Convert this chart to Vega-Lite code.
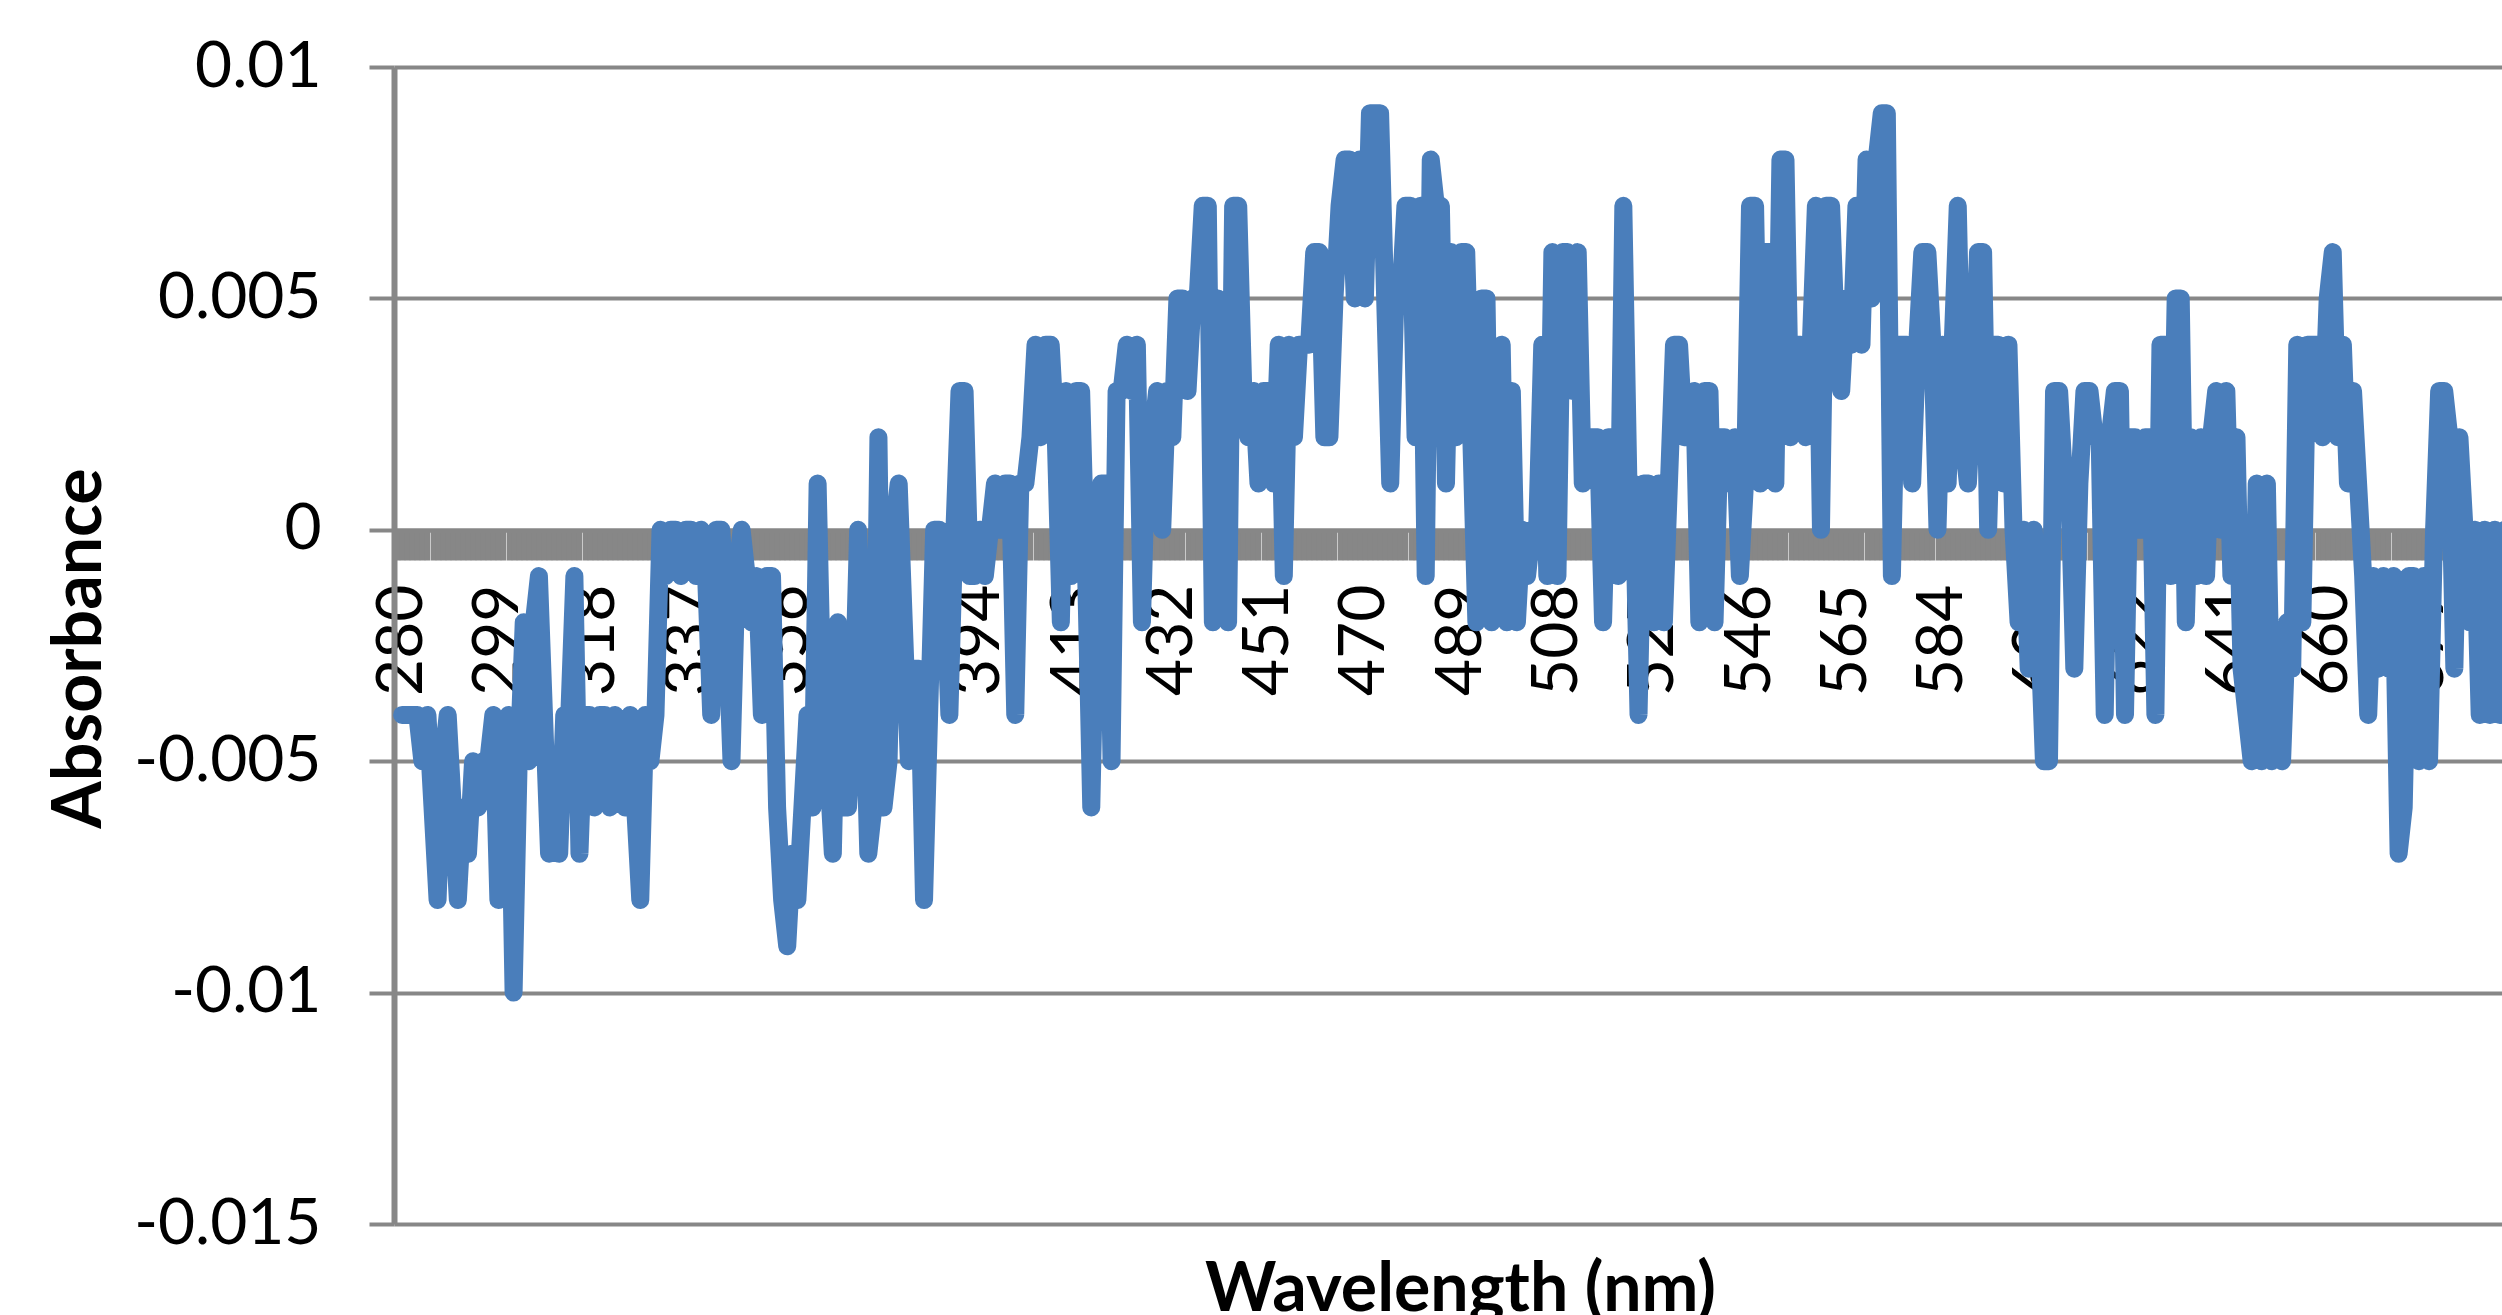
{
  "$schema": "https://vega.github.io/schema/vega-lite/v6.json",
  "width": 2108,
  "height": 1157,
  "autosize": {"type": "none"},
  "padding": {"left": 394, "top": 67, "right": 0, "bottom": 91},
  "background": "white",
  "config": {"view": {"stroke": null}},
  "data": {"values": [
{"nm":280,"A":-0.004},{"nm":281,"A":-0.004},{"nm":282,"A":-0.004},{"nm":283,"A":-0.004},{"nm":284,"A":-0.005},{"nm":285,"A":-0.004},{"nm":286,"A":-0.006},{"nm":287,"A":-0.008},{"nm":288,"A":-0.005},{"nm":289,"A":-0.004},
{"nm":290,"A":-0.006},{"nm":291,"A":-0.008},{"nm":292,"A":-0.006},{"nm":293,"A":-0.007},{"nm":294,"A":-0.005},{"nm":295,"A":-0.006},{"nm":296,"A":-0.005},{"nm":297,"A":-0.005},{"nm":298,"A":-0.004},{"nm":299,"A":-0.008},
{"nm":300,"A":-0.005},{"nm":301,"A":-0.004},{"nm":302,"A":-0.01},{"nm":303,"A":-0.005},{"nm":304,"A":-0.002},{"nm":305,"A":-0.005},{"nm":306,"A":-0.002},{"nm":307,"A":-0.001},{"nm":308,"A":-0.004},{"nm":309,"A":-0.007},
{"nm":310,"A":-0.005},{"nm":311,"A":-0.007},{"nm":312,"A":-0.004},{"nm":313,"A":-0.004},{"nm":314,"A":-0.001},{"nm":315,"A":-0.007},{"nm":316,"A":-0.004},{"nm":317,"A":-0.004},{"nm":318,"A":-0.006},{"nm":319,"A":-0.004},
{"nm":320,"A":-0.004},{"nm":321,"A":-0.006},{"nm":322,"A":-0.004},{"nm":323,"A":-0.005},{"nm":324,"A":-0.006},{"nm":325,"A":-0.004},{"nm":326,"A":-0.006},{"nm":327,"A":-0.008},{"nm":328,"A":-0.004},{"nm":329,"A":-0.005},
{"nm":330,"A":-0.004},{"nm":331,"A":0},{"nm":332,"A":-0.001},{"nm":333,"A":0},{"nm":334,"A":0},{"nm":335,"A":-0.001},{"nm":336,"A":0},{"nm":337,"A":0},{"nm":338,"A":-0.001},{"nm":339,"A":0},
{"nm":340,"A":-0.001},{"nm":341,"A":-0.004},{"nm":342,"A":0},{"nm":343,"A":0},{"nm":344,"A":-0.002},{"nm":345,"A":-0.005},{"nm":346,"A":-0.001},{"nm":347,"A":0},{"nm":348,"A":-0.001},{"nm":349,"A":-0.002},
{"nm":350,"A":-0.001},{"nm":351,"A":-0.004},{"nm":352,"A":-0.001},{"nm":353,"A":-0.001},{"nm":354,"A":-0.006},{"nm":355,"A":-0.008},{"nm":356,"A":-0.009},{"nm":357,"A":-0.007},{"nm":358,"A":-0.008},{"nm":359,"A":-0.006},
{"nm":360,"A":-0.004},{"nm":361,"A":-0.006},{"nm":362,"A":0.001},{"nm":363,"A":-0.004},{"nm":364,"A":-0.005},{"nm":365,"A":-0.007},{"nm":366,"A":-0.002},{"nm":367,"A":-0.006},{"nm":368,"A":-0.006},{"nm":369,"A":-0.004},
{"nm":370,"A":0},{"nm":371,"A":-0.003},{"nm":372,"A":-0.007},{"nm":373,"A":-0.006},{"nm":374,"A":0.002},{"nm":375,"A":-0.006},{"nm":376,"A":-0.005},{"nm":377,"A":0},{"nm":378,"A":0.001},{"nm":379,"A":-0.002},
{"nm":380,"A":-0.005},{"nm":381,"A":-0.003},{"nm":382,"A":-0.003},{"nm":383,"A":-0.008},{"nm":384,"A":-0.004},{"nm":385,"A":0},{"nm":386,"A":0},{"nm":387,"A":-0.001},{"nm":388,"A":-0.004},{"nm":389,"A":0},
{"nm":390,"A":0.003},{"nm":391,"A":0.003},{"nm":392,"A":-0.001},{"nm":393,"A":-0.001},{"nm":394,"A":0},{"nm":395,"A":-0.001},{"nm":396,"A":0},{"nm":397,"A":0.001},{"nm":398,"A":0},{"nm":399,"A":0.001},
{"nm":400,"A":0.001},{"nm":401,"A":-0.004},{"nm":402,"A":0.001},{"nm":403,"A":0.001},{"nm":404,"A":0.002},{"nm":405,"A":0.004},{"nm":406,"A":0.002},{"nm":407,"A":0.004},{"nm":408,"A":0.004},{"nm":409,"A":0.002},
{"nm":410,"A":-0.002},{"nm":411,"A":0.003},{"nm":412,"A":-0.001},{"nm":413,"A":0.003},{"nm":414,"A":0.003},{"nm":415,"A":-0.001},{"nm":416,"A":-0.006},{"nm":417,"A":-0.001},{"nm":418,"A":0.001},{"nm":419,"A":0.001},
{"nm":420,"A":-0.005},{"nm":421,"A":0.003},{"nm":422,"A":0.003},{"nm":423,"A":0.004},{"nm":424,"A":0.003},{"nm":425,"A":0.004},{"nm":426,"A":-0.002},{"nm":427,"A":0.002},{"nm":428,"A":0.002},{"nm":429,"A":0.003},
{"nm":430,"A":0},{"nm":431,"A":0.003},{"nm":432,"A":0.002},{"nm":433,"A":0.005},{"nm":434,"A":0.005},{"nm":435,"A":0.003},{"nm":436,"A":0.005},{"nm":437,"A":0.005},{"nm":438,"A":0.007},{"nm":439,"A":0.007},
{"nm":440,"A":-0.002},{"nm":441,"A":0.005},{"nm":442,"A":0.002},{"nm":443,"A":-0.002},{"nm":444,"A":0.007},{"nm":445,"A":0.007},{"nm":446,"A":0.003},{"nm":447,"A":0.002},{"nm":448,"A":0.003},{"nm":449,"A":0.001},
{"nm":450,"A":0.003},{"nm":451,"A":0.003},{"nm":452,"A":0.001},{"nm":453,"A":0.004},{"nm":454,"A":-0.001},{"nm":455,"A":0.004},{"nm":456,"A":0.002},{"nm":457,"A":0.004},{"nm":458,"A":0.004},{"nm":459,"A":0.004},
{"nm":460,"A":0.006},{"nm":461,"A":0.006},{"nm":462,"A":0.002},{"nm":463,"A":0.002},{"nm":464,"A":0.005},{"nm":465,"A":0.007},{"nm":466,"A":0.008},{"nm":467,"A":0.008},{"nm":468,"A":0.005},{"nm":469,"A":0.008},
{"nm":470,"A":0.005},{"nm":471,"A":0.009},{"nm":472,"A":0.009},{"nm":473,"A":0.009},{"nm":474,"A":0.005},{"nm":475,"A":0.001},{"nm":476,"A":0.005},{"nm":477,"A":0.005},{"nm":478,"A":0.007},{"nm":479,"A":0.007},
{"nm":480,"A":0.002},{"nm":481,"A":0.007},{"nm":482,"A":-0.001},{"nm":483,"A":0.008},{"nm":484,"A":0.007},{"nm":485,"A":0.007},{"nm":486,"A":0.001},{"nm":487,"A":0.006},{"nm":488,"A":0.002},{"nm":489,"A":0.006},
{"nm":490,"A":0.006},{"nm":491,"A":0.002},{"nm":492,"A":-0.002},{"nm":493,"A":0.005},{"nm":494,"A":0.005},{"nm":495,"A":-0.002},{"nm":496,"A":0.003},{"nm":497,"A":0.004},{"nm":498,"A":-0.002},{"nm":499,"A":0.003},
{"nm":500,"A":-0.002},{"nm":501,"A":0},{"nm":502,"A":-0.001},{"nm":503,"A":0},{"nm":504,"A":0},{"nm":505,"A":0.004},{"nm":506,"A":-0.001},{"nm":507,"A":0.006},{"nm":508,"A":-0.001},{"nm":509,"A":0.006},
{"nm":510,"A":0.006},{"nm":511,"A":0.003},{"nm":512,"A":0.006},{"nm":513,"A":0.001},{"nm":514,"A":0.002},{"nm":515,"A":0.002},{"nm":516,"A":0.002},{"nm":517,"A":-0.002},{"nm":518,"A":0.002},{"nm":519,"A":0.002},
{"nm":520,"A":-0.001},{"nm":521,"A":0.007},{"nm":522,"A":0.001},{"nm":523,"A":0.001},{"nm":524,"A":-0.004},{"nm":525,"A":0.001},{"nm":526,"A":0.001},{"nm":527,"A":-0.002},{"nm":528,"A":0.001},{"nm":529,"A":-0.002},
{"nm":530,"A":0.001},{"nm":531,"A":0.004},{"nm":532,"A":0.004},{"nm":533,"A":0.002},{"nm":534,"A":0.002},{"nm":535,"A":0.003},{"nm":536,"A":-0.002},{"nm":537,"A":0.003},{"nm":538,"A":0.003},{"nm":539,"A":-0.002},
{"nm":540,"A":0.002},{"nm":541,"A":0.002},{"nm":542,"A":0.001},{"nm":543,"A":0.002},{"nm":544,"A":-0.001},{"nm":545,"A":0.001},{"nm":546,"A":0.007},{"nm":547,"A":0.007},{"nm":548,"A":0.001},{"nm":549,"A":0.006},
{"nm":550,"A":0.006},{"nm":551,"A":0.001},{"nm":552,"A":0.008},{"nm":553,"A":0.008},{"nm":554,"A":0.002},{"nm":555,"A":0.004},{"nm":556,"A":0.004},{"nm":557,"A":0.002},{"nm":558,"A":0.004},{"nm":559,"A":0.007},
{"nm":560,"A":0},{"nm":561,"A":0.007},{"nm":562,"A":0.007},{"nm":563,"A":0.004},{"nm":564,"A":0.003},{"nm":565,"A":0.005},{"nm":566,"A":0.004},{"nm":567,"A":0.007},{"nm":568,"A":0.004},{"nm":569,"A":0.008},
{"nm":570,"A":0.005},{"nm":571,"A":0.008},{"nm":572,"A":0.009},{"nm":573,"A":0.009},{"nm":574,"A":-0.001},{"nm":575,"A":0.004},{"nm":576,"A":0.004},{"nm":577,"A":0.004},{"nm":578,"A":0.001},{"nm":579,"A":0.004},
{"nm":580,"A":0.006},{"nm":581,"A":0.006},{"nm":582,"A":0.004},{"nm":583,"A":0},{"nm":584,"A":0.004},{"nm":585,"A":0.001},{"nm":586,"A":0.004},{"nm":587,"A":0.007},{"nm":588,"A":0.002},{"nm":589,"A":0.001},
{"nm":590,"A":0.003},{"nm":591,"A":0.006},{"nm":592,"A":0.006},{"nm":593,"A":0},{"nm":594,"A":0.004},{"nm":595,"A":0.004},{"nm":596,"A":0.001},{"nm":597,"A":0.004},{"nm":598,"A":0},{"nm":599,"A":-0.002},
{"nm":600,"A":0},{"nm":601,"A":-0.003},{"nm":602,"A":0},{"nm":603,"A":-0.002},{"nm":604,"A":-0.005},{"nm":605,"A":-0.005},{"nm":606,"A":0.003},{"nm":607,"A":0.003},{"nm":608,"A":0.001},{"nm":609,"A":0.001},
{"nm":610,"A":-0.003},{"nm":611,"A":0.001},{"nm":612,"A":0.003},{"nm":613,"A":0.003},{"nm":614,"A":0.002},{"nm":615,"A":0.002},{"nm":616,"A":-0.004},{"nm":617,"A":0.002},{"nm":618,"A":0.003},{"nm":619,"A":0.003},
{"nm":620,"A":-0.004},{"nm":621,"A":0.002},{"nm":622,"A":0.002},{"nm":623,"A":0},{"nm":624,"A":0.002},{"nm":625,"A":0.002},{"nm":626,"A":-0.004},{"nm":627,"A":0.004},{"nm":628,"A":0.004},{"nm":629,"A":-0.001},
{"nm":630,"A":0.005},{"nm":631,"A":0.005},{"nm":632,"A":-0.002},{"nm":633,"A":0.002},{"nm":634,"A":-0.001},{"nm":635,"A":0.002},{"nm":636,"A":-0.001},{"nm":637,"A":0.002},{"nm":638,"A":0.003},{"nm":639,"A":0},
{"nm":640,"A":0.003},{"nm":641,"A":-0.001},{"nm":642,"A":0.002},{"nm":643,"A":-0.003},{"nm":644,"A":-0.004},{"nm":645,"A":-0.005},{"nm":646,"A":0.001},{"nm":647,"A":-0.005},{"nm":648,"A":0.001},{"nm":649,"A":-0.005},
{"nm":650,"A":-0.004},{"nm":651,"A":-0.005},{"nm":652,"A":-0.002},{"nm":653,"A":-0.003},{"nm":654,"A":0.004},{"nm":655,"A":-0.002},{"nm":656,"A":0.004},{"nm":657,"A":0.004},{"nm":658,"A":0.004},{"nm":659,"A":0.002},
{"nm":660,"A":0.005},{"nm":661,"A":0.006},{"nm":662,"A":0.002},{"nm":663,"A":0.004},{"nm":664,"A":0.001},{"nm":665,"A":0.003},{"nm":666,"A":0.001},{"nm":667,"A":-0.001},{"nm":668,"A":-0.004},{"nm":669,"A":-0.001},
{"nm":670,"A":-0.003},{"nm":671,"A":-0.001},{"nm":672,"A":-0.003},{"nm":673,"A":-0.001},{"nm":674,"A":-0.007},{"nm":675,"A":-0.006},{"nm":676,"A":-0.001},{"nm":677,"A":-0.001},{"nm":678,"A":-0.005},{"nm":679,"A":-0.001},
{"nm":680,"A":-0.005},{"nm":681,"A":0},{"nm":682,"A":0.003},{"nm":683,"A":0.003},{"nm":684,"A":0.002},{"nm":685,"A":-0.003},{"nm":686,"A":0.002},{"nm":687,"A":0},{"nm":688,"A":-0.002},{"nm":689,"A":0},
{"nm":690,"A":-0.004},{"nm":691,"A":0},{"nm":692,"A":-0.004},{"nm":693,"A":0},{"nm":694,"A":-0.004},{"nm":695,"A":0}
  ]},
  "mark": {"type": "line", "color": "#4A7EBB", "strokeWidth": 18, "strokeJoin": "round", "strokeCap": "round"},
  "encoding": {
    "x": {
      "field": "nm", "type": "quantitative",
      "scale": {"domain": [278.4, 694.4], "nice": false, "zero": false},
      "axis": {
        "title": "Wavelength (nm)",
        "offset": -694,
        "tickCount": 416,
        "labelExpr": "(datum.value - 280) % 19 == 0 ? '' + datum.value : ''",
        "labelAngle": 270,
        "labelFont": "Lato", "labelFontSize": 64, "labelColor": "#000000", "labelLimit": 0,
        "labelPadding": 24, "labelOverlap": false, "labelBound": false, "labelFlush": false,
        "ticks": true, "tickSize": 30, "tickWidth": 5.5, "tickColor": "#878787",
        "domain": true, "domainColor": "#878787", "domainWidth": 4,
        "grid": false,
        "titleFont": "Lato", "titleFontSize": 68, "titleFontWeight": "bold", "titleColor": "#000000", "titleLimit": 0,
        "titleX": 1066, "titleY": 780, "titleBaseline": "alphabetic", "titleAlign": "center", "titleAngle": 0
      }
    },
    "y": {
      "field": "A", "type": "quantitative",
      "scale": {"domain": [-0.015, 0.01], "nice": false, "zero": false},
      "axis": {
        "title": "Absorbance",
        "values": [-0.015, -0.01, -0.005, 0, 0.005, 0.01],
        "labelExpr": "datum.value == 0 ? '0' : (datum.value < 0 ? '-' : '') + format(abs(datum.value), '~g')",
        "labelFont": "Lato", "labelFontSize": 64, "labelColor": "#000000", "labelPadding": 48, "labelLimit": 0,
        "ticks": true, "tickSize": 25, "tickWidth": 4, "tickColor": "#878787",
        "domain": true, "domainColor": "#878787", "domainWidth": 6,
        "grid": true, "gridColor": "#878787", "gridWidth": 4,
        "titleFont": "Lato", "titleFontSize": 68, "titleFontWeight": "bold", "titleColor": "#000000", "titleLimit": 0,
        "titleAngle": 270, "titleX": -314, "titleY": 581, "titleBaseline": "middle", "titleAlign": "center"
      }
    }
  }
}
